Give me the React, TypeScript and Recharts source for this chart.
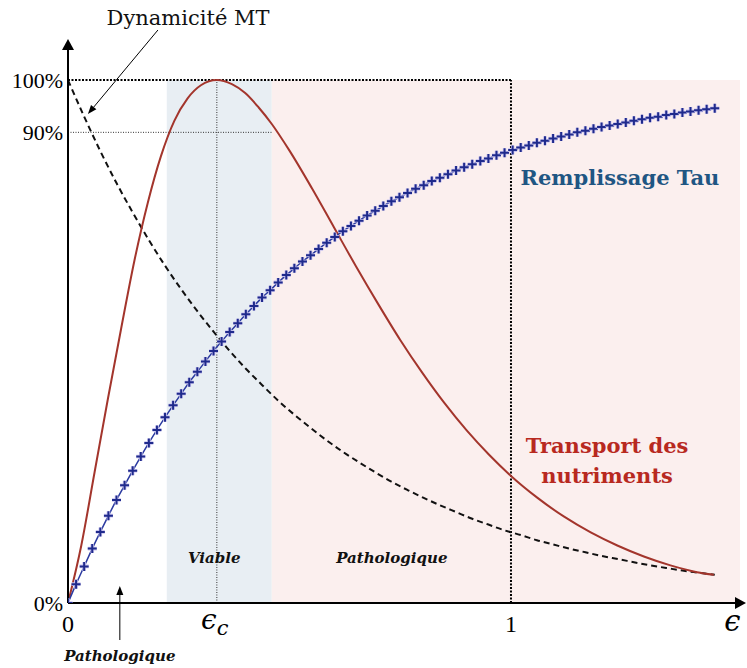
import React from "react";
import {
  LineChart,
  Line,
  XAxis,
  YAxis,
  ReferenceArea,
  ReferenceLine,
  ReferenceDot,
} from "recharts";

// sampling step of the marked curve (in units of epsilon)
const STEP = 0.01825;

// Remplissage Tau (%), one value per "+" marker
const tauFill = [
  0, 3.6, 7.0, 10.4, 13.6, 16.7, 19.7, 22.5, 25.3, 28.0, 30.6, 33.1, 35.5, 37.8,
  40.0, 42.2, 44.2, 46.2, 48.2, 50.0, 51.8, 53.5, 55.2, 56.8, 58.4, 59.8, 61.3,
  62.7, 64.0, 65.3, 66.5, 67.7, 68.9, 70.0, 71.1, 72.1, 73.1, 74.1, 75.0, 75.9,
  76.8, 77.6, 78.4, 79.2, 79.9, 80.7, 81.3, 82.0, 82.7, 83.3, 83.9, 84.5, 85.0,
  85.6, 86.1, 86.6, 87.1, 87.5, 88.0, 88.4, 88.8, 89.2, 89.6, 90.0, 90.3, 90.7,
  91.0, 91.3, 91.6, 91.9, 92.2, 92.5, 92.8, 93.0, 93.3, 93.5, 93.8, 94.0, 94.2,
  94.4, 94.6,
];

// Dynamicité MT (%), every second sample
const mtDynamics = [
  100, 93.0, 86.4, 80.3, 74.7, 69.4, 64.5, 60.0, 55.8, 51.9, 48.2, 44.8, 41.7,
  38.7, 36.0, 33.5, 31.1, 28.9, 26.9, 25.0, 23.2, 21.6, 20.1, 18.7, 17.4, 16.1,
  15.0, 13.9, 13.0, 12.0, 11.2, 10.4, 9.7, 9.0, 8.4, 7.8, 7.2, 6.7, 6.2, 5.8, 5.4,
];

// Transport des nutriments
const transportX = [
  0, 0.03, 0.06, 0.09, 0.12, 0.15, 0.18, 0.21, 0.24, 0.27, 0.3, 0.336, 0.37, 0.4,
  0.43, 0.46, 0.5, 0.55, 0.6, 0.65, 0.7, 0.75, 0.8, 0.85, 0.9, 0.95, 1.0, 1.06,
  1.12, 1.18, 1.24, 1.3, 1.36, 1.42, 1.458,
];
const transportY = [
  0, 11, 25, 39, 52.5, 65.5, 76.5, 85.5, 92.2, 96.5, 99.0, 100, 99.2, 97.5,
  94.8, 91.6, 86.5, 79.4, 71.9, 64.4, 57.2, 50.3, 44.0, 38.2, 33.0, 28.4, 24.3,
  20.1, 16.5, 13.5, 11.0, 8.9, 7.2, 5.9, 5.4,
];

const EPS_C = 0.336;
const VIABLE_FROM = 0.223;
const VIABLE_TO = 0.46;
const X_MAX = 1.517;
const Y_MAX = 106.7;
const xTicks = [0, EPS_C, 1, 1.5];
const yTicks = [0, 90, 100];

const tauData = tauFill.map((y, i) => ({ x: i * STEP, y }));
const mtData = mtDynamics.map((y, i) => ({ x: i * 2 * STEP, y }));
const transportData = transportX.map((x, i) => ({ x, y: transportY[i] }));

const SERIF = "'DejaVu Serif', serif";
const DIGITS = "'Liberation Serif', serif";

const PlusDot = (props: any) => {
  const { cx, cy, index } = props;
  const d = `M${cx - 4.5},${cy}H${cx + 4.5}M${cx},${cy - 4.5}V${cy + 4.5}`;
  return (
    <g key={`tau-${index}`}>
      <path d={d} stroke="#c9c3ef" strokeWidth={3.6} />
      <path d={d} stroke="#1f2a8c" strokeWidth={2} />
    </g>
  );
};

const XTick = ({ x, y, payload }: any) => {
  const v = payload.value;
  if (v === EPS_C) {
    return (
      <text x={x - 2} y={y + 26} textAnchor="middle" fontFamily={SERIF} fill="#000">
        <tspan fontSize={28} fontStyle="italic">ϵ</tspan>
        <tspan fontSize={21} fontStyle="italic" dy={6}>c</tspan>
      </text>
    );
  }
  if (v === 1.5) {
    return (
      <text x={x} y={y + 28} textAnchor="middle" fontFamily={SERIF} fontSize={29} fontStyle="italic" fill="#000">
        ϵ
      </text>
    );
  }
  return (
    <text x={x} y={y + 29} textAnchor="middle" fontFamily={DIGITS} fontSize={24} fill="#000">
      {v}
    </text>
  );
};

const YTick = ({ x, y, payload }: any) => (
  <text x={x} y={y} dy="0.35em" textAnchor="end" fontFamily={DIGITS} fontSize={22} fill="#000">
    {payload.value}%
  </text>
);

const note =
  (lines: string[], style: React.SVGProps<SVGTextElement>, gap = 30) =>
  (p: any) =>
    (
      <g>
        {lines.map((t, i) => (
          <text
            key={t}
            x={p.cx}
            y={p.cy + i * gap}
            textAnchor="middle"
            dominantBaseline="central"
            {...style}
          >
            {t}
          </text>
        ))}
      </g>
    );

// arrow whose head sits on the dot, tail offset by (dx, dy) pixels
const arrow = (dx: number, dy: number) => (p: any) => {
  const { cx, cy } = p;
  const len = Math.hypot(dx, dy);
  const ux = -dx / len;
  const uy = -dy / len;
  const hx = cx - ux * 9;
  const hy = cy - uy * 9;
  return (
    <g>
      <line x1={cx + dx} y1={cy + dy} x2={hx} y2={hy} stroke="#000" strokeWidth={1} />
      <polygon
        points={`${cx},${cy} ${hx - uy * 3.5},${hy + ux * 3.5} ${hx + uy * 3.5},${hy - ux * 3.5}`}
        fill="#000"
      />
    </g>
  );
};

const upHead = (p: any) => (
  <polygon points={`${p.cx},${p.cy - 6} ${p.cx - 6},${p.cy + 5} ${p.cx + 6},${p.cy + 5}`} fill="#000" />
);
const rightHead = (p: any) => (
  <polygon points={`${p.cx + 6},${p.cy} ${p.cx - 5},${p.cy - 6} ${p.cx - 5},${p.cy + 6}`} fill="#000" />
);

export default function App() {
  return (
    <div style={{ position: "absolute", left: 0, top: 0, background: "#fff" }}>
      <LineChart
        width={747}
        height={668}
        margin={{ top: 45, right: 7, left: 8, bottom: 25 }}
      >
        <ReferenceArea
          x1={VIABLE_FROM}
          x2={VIABLE_TO}
          y1={0}
          y2={100}
          fill="#e8eef3"
          fillOpacity={1}
          stroke="none"
        />
        <ReferenceArea
          x1={VIABLE_TO}
          x2={X_MAX}
          y1={0}
          y2={100}
          fill="#fbefee"
          fillOpacity={1}
          stroke="none"
        />
        <XAxis
          dataKey="x"
          type="number"
          domain={[0, X_MAX]}
          ticks={xTicks}
          tick={<XTick />}
          tickLine={false}
          tickSize={0}
          tickMargin={0}
          height={40}
          axisLine={{ stroke: "#000", strokeWidth: 2 }}
          allowDataOverflow
        />
        <YAxis
          type="number"
          domain={[0, Y_MAX]}
          ticks={yTicks}
          tick={<YTick />}
          tickLine={false}
          tickSize={0}
          tickMargin={5}
          width={60}
          axisLine={{ stroke: "#000", strokeWidth: 2 }}
          allowDataOverflow
        />

        <ReferenceLine
          segment={[{ x: 0, y: 90 }, { x: VIABLE_TO, y: 90 }]}
          stroke="#333"
          strokeWidth={1}
          strokeDasharray="1 1.5"
        />
        <ReferenceLine
          segment={[{ x: EPS_C, y: 0 }, { x: EPS_C, y: 100 }]}
          stroke="#333"
          strokeWidth={1}
          strokeDasharray="1 1.5"
        />
        <ReferenceLine
          segment={[{ x: 0, y: 100 }, { x: 1, y: 100 }]}
          stroke="#000"
          strokeWidth={2}
          strokeDasharray="2 1.5"
        />
        <ReferenceLine
          segment={[{ x: 1, y: 0 }, { x: 1, y: 100 }]}
          stroke="#000"
          strokeWidth={2}
          strokeDasharray="2 1.5"
        />

        <Line
          data={mtData}
          dataKey="y"
          type="monotone"
          stroke="#111"
          strokeWidth={2}
          strokeDasharray="6 4"
          dot={false}
          isAnimationActive={false}
        />
        <Line
          data={transportData}
          dataKey="y"
          type="monotone"
          stroke="#a3352c"
          strokeWidth={2}
          dot={false}
          isAnimationActive={false}
        />
        <Line
          data={tauData}
          dataKey="y"
          type="monotone"
          stroke="#2b3aa0"
          strokeWidth={1.5}
          dot={PlusDot}
          isAnimationActive={false}
        />

        <ReferenceDot x={0} y={Y_MAX} r={0} ifOverflow="visible" shape={upHead} />
        <ReferenceDot x={X_MAX} y={0} r={0} ifOverflow="visible" shape={rightHead} />

        <ReferenceDot
          x={1.246}
          y={81.3}
          r={0}
          ifOverflow="visible"
          shape={note(["Remplissage Tau"], {
            fontFamily: SERIF,
            fontWeight: "bold",
            fontSize: 21,
            fill: "#1f5683",
          })}
        />
        <ReferenceDot
          x={1.217}
          y={30.2}
          r={0}
          ifOverflow="visible"
          shape={note(["Transport des", "nutriments"], {
            fontFamily: SERIF,
            fontWeight: "bold",
            fontSize: 21,
            fill: "#b8291f",
          })}
        />
        <ReferenceDot
          x={0.33}
          y={8.6}
          r={0}
          ifOverflow="visible"
          shape={note(["Viable"], {
            fontFamily: SERIF,
            fontWeight: "bold",
            fontStyle: "italic",
            fontSize: 15,
            fill: "#111",
          })}
        />
        <ReferenceDot
          x={0.731}
          y={8.6}
          r={0}
          ifOverflow="visible"
          shape={note(["Pathologique"], {
            fontFamily: SERIF,
            fontWeight: "bold",
            fontStyle: "italic",
            fontSize: 15,
            fill: "#111",
          })}
        />
        <ReferenceDot
          x={0.117}
          y={-10.1}
          r={0}
          ifOverflow="visible"
          shape={note(["Pathologique"], {
            fontFamily: SERIF,
            fontWeight: "bold",
            fontStyle: "italic",
            fontSize: 15,
            fill: "#111",
          })}
        />
        <ReferenceDot x={0.117} y={3.25} r={0} ifOverflow="visible" shape={arrow(0, 54)} />
        <ReferenceDot
          x={0.271}
          y={111.9}
          r={0}
          ifOverflow="visible"
          shape={note(["Dynamicité MT"], {
            fontFamily: SERIF,
            fontSize: 21,
            fill: "#111",
          })}
        />
        <ReferenceDot x={0.045} y={93.5} r={0} ifOverflow="visible" shape={arrow(70, -84)} />
      </LineChart>
    </div>
  );
}
